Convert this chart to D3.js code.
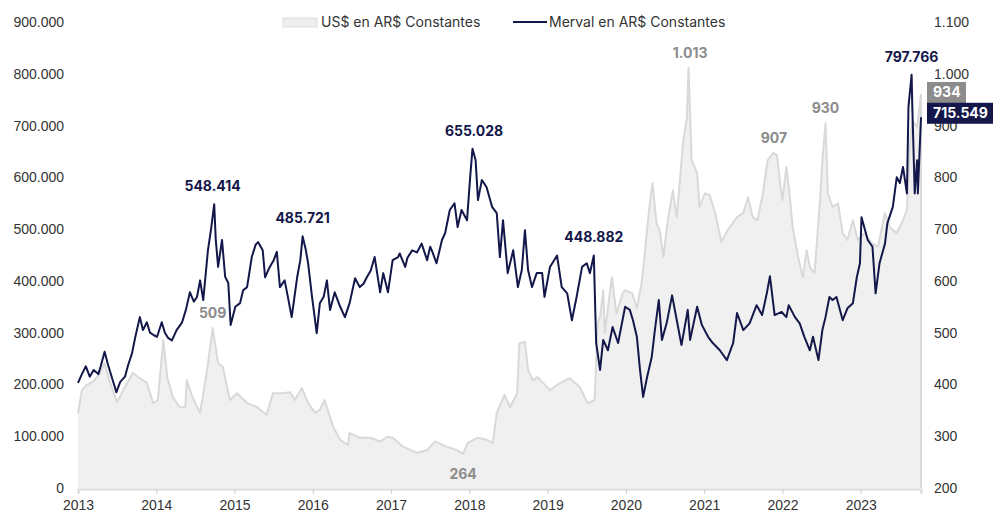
<!DOCTYPE html>
<html>
<head>
<meta charset="utf-8">
<script src="https://cdn.jsdelivr.net/npm/d3@7"></script>
<style>
  body { margin: 0; background: #fff; }
  svg { font-family: Inter, "Noto Sans", sans-serif; display: block; }
</style>
</head>
<body>
<script>
// Merval en AR$ constantes (miles), [año decimal, valor]
var merval = [
  [2013.00,203],[2013.05,220],[2013.10,235],[2013.15,215],[2013.20,228],[2013.26,220],[2013.29,235],[2013.34,263],
  [2013.38,240],[2013.43,215],[2013.49,185],[2013.54,205],[2013.60,215],[2013.64,237],[2013.69,260],[2013.73,290],
  [2013.79,330],[2013.83,305],[2013.88,320],[2013.92,300],[2013.97,295],[2014.01,292],[2014.07,320],[2014.11,300],
  [2014.15,290],[2014.20,285],[2014.26,305],[2014.33,320],[2014.38,345],[2014.43,378],[2014.48,360],[2014.52,369],
  [2014.56,401],[2014.60,363],[2014.66,459],[2014.70,500],[2014.74,548],[2014.76,480],[2014.79,427],[2014.84,479],
  [2014.88,408],[2014.92,396],[2014.95,315],[2015.01,350],[2015.07,357],[2015.11,382],[2015.16,388],[2015.22,446],
  [2015.27,470],[2015.30,475],[2015.36,459],[2015.39,407],[2015.45,427],[2015.50,440],[2015.54,456],[2015.58,388],
  [2015.64,401],[2015.68,370],[2015.73,330],[2015.80,407],[2015.84,440],[2015.87,486],[2015.91,460],[2015.94,434],
  [2015.99,369],[2016.05,299],[2016.09,357],[2016.14,370],[2016.18,401],[2016.22,344],[2016.28,378],[2016.35,350],
  [2016.41,330],[2016.47,357],[2016.54,405],[2016.60,388],[2016.65,395],[2016.69,407],[2016.74,420],[2016.79,446],
  [2016.86,378],[2016.90,415],[2016.96,378],[2017.02,440],[2017.09,446],[2017.11,453],[2017.18,427],[2017.21,445],
  [2017.27,459],[2017.33,455],[2017.39,472],[2017.46,440],[2017.50,466],[2017.53,455],[2017.58,434],[2017.65,479],
  [2017.69,492],[2017.75,537],[2017.81,550],[2017.85,504],[2017.90,537],[2017.97,517],[2018.01,600],[2018.04,655],
  [2018.08,633],[2018.11,556],[2018.16,595],[2018.22,581],[2018.29,543],[2018.35,531],[2018.39,446],[2018.43,517],
  [2018.49,415],[2018.56,459],[2018.62,388],[2018.67,421],[2018.71,498],[2018.75,421],[2018.80,388],[2018.86,415],
  [2018.93,415],[2018.96,369],[2019.03,427],[2019.12,449],[2019.18,388],[2019.25,376],[2019.31,324],[2019.37,369],
  [2019.44,427],[2019.50,434],[2019.54,415],[2019.59,449],[2019.62,280],[2019.67,228],[2019.71,286],[2019.77,266],
  [2019.83,311],[2019.90,280],[2019.99,350],[2020.05,344],[2020.09,324],[2020.14,292],[2020.18,228],[2020.22,176],
  [2020.27,214],[2020.33,253],[2020.37,305],[2020.42,363],[2020.46,286],[2020.52,318],[2020.59,372],[2020.65,324],
  [2020.71,276],[2020.79,344],[2020.82,286],[2020.91,350],[2020.97,315],[2021.05,292],[2021.11,280],[2021.20,266],
  [2021.29,247],[2021.37,280],[2021.42,338],[2021.50,305],[2021.58,318],[2021.67,353],[2021.74,334],[2021.80,376],
  [2021.84,409],[2021.90,334],[2021.99,340],[2022.05,330],[2022.08,353],[2022.16,330],[2022.22,318],[2022.28,292],
  [2022.35,266],[2022.39,292],[2022.46,247],[2022.51,305],[2022.55,330],[2022.60,369],[2022.64,363],[2022.69,369],
  [2022.77,324],[2022.83,347],[2022.90,357],[2022.95,407],[2022.99,434],[2023.01,523],[2023.09,479],[2023.15,466],
  [2023.19,376],[2023.24,434],[2023.31,472],[2023.34,511],[2023.41,543],[2023.46,600],[2023.50,589],[2023.54,620],
  [2023.59,569],[2023.61,736],[2023.65,798],[2023.66,730],[2023.69,569],[2023.72,633],[2023.73,569],[2023.77,716]
];

// US$ en AR$ constantes, [año decimal, valor]
var usd = [
  [2013.00,345],[2013.05,389],[2013.11,399],[2013.19,405],[2013.28,422],[2013.34,441],[2013.41,403],[2013.50,366],
  [2013.60,395],[2013.70,422],[2013.79,412],[2013.88,403],[2013.96,364],[2014.02,370],[2014.09,486],[2014.14,414],
  [2014.21,376],[2014.30,356],[2014.37,356],[2014.39,408],[2014.46,376],[2014.56,345],[2014.65,428],[2014.72,509],
  [2014.79,441],[2014.85,434],[2014.94,370],[2015.03,383],[2015.16,364],[2015.29,356],[2015.41,341],[2015.49,383],
  [2015.61,383],[2015.71,385],[2015.77,370],[2015.86,393],[2015.94,364],[2016.03,345],[2016.09,351],[2016.15,370],
  [2016.26,318],[2016.35,293],[2016.45,283],[2016.47,306],[2016.60,297],[2016.73,297],[2016.86,290],[2016.95,299],
  [2017.02,297],[2017.15,280],[2017.33,268],[2017.46,273],[2017.56,290],[2017.71,280],[2017.84,273],[2017.92,266],
  [2017.98,287],[2018.10,297],[2018.22,293],[2018.30,287],[2018.35,345],[2018.45,380],[2018.52,356],[2018.61,383],
  [2018.64,480],[2018.71,482],[2018.75,428],[2018.81,408],[2018.87,414],[2018.94,403],[2019.03,389],[2019.16,403],
  [2019.28,412],[2019.41,395],[2019.51,364],[2019.60,370],[2019.64,519],[2019.67,530],[2019.71,582],[2019.73,500],
  [2019.82,607],[2019.88,537],[2019.96,576],[2019.99,582],[2020.08,576],[2020.14,547],[2020.20,596],[2020.22,621],
  [2020.27,698],[2020.31,756],[2020.34,789],[2020.39,712],[2020.43,698],[2020.48,646],[2020.53,712],[2020.60,775],
  [2020.65,723],[2020.69,795],[2020.73,866],[2020.78,916],[2020.80,1011],[2020.84,833],[2020.91,808],[2020.94,743],
  [2021.01,769],[2021.07,766],[2021.14,731],[2021.22,675],[2021.30,698],[2021.42,723],[2021.50,731],[2021.56,762],
  [2021.62,723],[2021.68,717],[2021.75,769],[2021.81,833],[2021.88,847],[2021.93,843],[2021.97,789],[2022.00,756],
  [2022.05,820],[2022.09,769],[2022.13,704],[2022.20,646],[2022.26,607],[2022.31,659],[2022.35,627],[2022.41,615],
  [2022.48,756],[2022.51,833],[2022.55,905],[2022.58,769],[2022.64,743],[2022.71,750],[2022.77,692],[2022.83,679],
  [2022.90,717],[2022.96,679],[2023.05,692],[2023.14,673],[2023.22,666],[2023.31,731],[2023.37,704],[2023.46,692],
  [2023.54,717],[2023.59,737],[2023.63,866],[2023.66,910],[2023.72,897],[2023.77,960]
];

var years = d3.range(2013, 2024);
var leftTicks = d3.range(0, 901, 100);      // miles
var rightTicks = d3.range(200, 1101, 100);

// etiquetas de picos del Merval: [año, valor, texto]
var mervalNotes = [
  [2014.72, 548.414, "548.414"],
  [2015.87, 485.721, "485.721"],
  [2018.06, 655.028, "655.028"],
  [2019.59, 448.882, "448.882"],
  [2023.65, 797.766, "797.766"]
];
// etiquetas del US$: [año, texto, debajo]
var usdNotes = [
  [2014.72, "509", false],
  [2017.92, "264", true],
  [2020.82, "1.013", false],
  [2021.89, "907", false],
  [2022.55, "930", false]
];
var lastUsd = "934", lastMerval = "715.549";
var seriesNames = ["US$ en AR$ Constantes", "Merval en AR$ Constantes"];

drawChart();

function drawChart(){
    var navy = "#13174a", grayText = "#8c8c8c";

    var width = 993, height = 511;
    var mLeft = 78, mRight = 921, mTop = 22, mBottom = 488;

    var es = d3.formatLocale({decimal: ",", thousands: ".", grouping: [3], currency: ["$", ""]});
    var fmt = es.format(",");

    var svg = d3.select("body").append("svg")
        .attr("width", width)
        .attr("height", height);

    var x = d3.scaleLinear()
        .domain(d3.extent(merval, function(d){ return d[0]; }))
        .range([mLeft, mRight]);
    var yL = d3.scaleLinear().domain([0, 900]).range([mBottom, mTop]);
    var yR = d3.scaleLinear().domain([200, 1100]).range([mBottom, mTop]);

    // area US$
    svg.append("path")
        .datum(usd)
        .attr("fill", "#f0f0f0")
        .attr("d", d3.area()
            .x(function(d){ return x(d[0]); })
            .y0(yR(200))
            .y1(function(d){ return yR(d[1]); }));

    svg.append("path")
        .datum(usd)
        .attr("fill", "none")
        .attr("stroke", "#d9d9d9")
        .attr("stroke-width", 2)
        .attr("stroke-linejoin", "round")
        .attr("d", d3.line()
            .x(function(d){ return x(d[0]); })
            .y(function(d){ return yR(d[1]); }));

    var lu = usd[usd.length - 1];
    svg.append("line")
        .attr("x1", x(lu[0])).attr("x2", x(lu[0]))
        .attr("y1", yR(lu[1])).attr("y2", yR(200))
        .attr("stroke", "#d9d9d9").attr("stroke-width", 2);

    // linea Merval
    svg.append("path")
        .datum(merval)
        .attr("fill", "none")
        .attr("stroke", navy)
        .attr("stroke-width", 2)
        .attr("stroke-linejoin", "round")
        .attr("d", d3.line()
            .x(function(d){ return x(d[0]); })
            .y(function(d){ return yL(d[1]); }));

    // ejes
    var gL = svg.append("g")
        .attr("transform", "translate(" + mLeft + ",0)")
        .call(d3.axisLeft(yL).tickValues(leftTicks).tickSize(0).tickPadding(14)
            .tickFormat(function(d){ return fmt(d * 1000); }));
    var gR = svg.append("g")
        .attr("transform", "translate(" + mRight + ",0)")
        .call(d3.axisRight(yR).tickValues(rightTicks).tickSize(0).tickPadding(13)
            .tickFormat(fmt));
    [gL, gR].forEach(function(g){
        g.select(".domain").remove();
        g.selectAll("text").attr("font-size", 14).attr("fill", "#333");
    });

    var gX = svg.append("g")
        .attr("transform", "translate(0," + (mBottom + 1) + ")")
        .call(d3.axisBottom(x).tickValues(years).tickFormat(d3.format("d")).tickSize(5).tickPadding(6));
    gX.select(".domain").attr("stroke", "#dcdcdc").attr("stroke-width", 2);
    gX.selectAll(".tick line").attr("stroke", "#cfcfcf");
    gX.selectAll("text").attr("font-size", 14).attr("fill", "#333");

    // etiquetas
    svg.selectAll(".mnote")
        .data(mervalNotes)
        .enter().append("text")
        .attr("class", "mnote")
        .attr("x", function(d){ return x(d[0]); })
        .attr("y", function(d){ return yL(d[1]) - 18; })
        .attr("dy", "0.35em")
        .attr("text-anchor", "middle")
        .attr("font-size", 14).attr("font-weight", 700)
        .attr("fill", navy)
        .text(function(d){ return d[2]; });

    function localPoint(t, low){
        var near = usd.filter(function(d){ return Math.abs(d[0] - t) <= 0.06; });
        return low ? d3.least(near, function(d){ return d[1]; }) : d3.greatest(near, function(d){ return d[1]; });
    }

    svg.selectAll(".unote")
        .data(usdNotes)
        .enter().append("text")
        .attr("class", "unote")
        .attr("x", function(d){ return x(d[0]); })
        .attr("y", function(d){
            var p = localPoint(d[0], d[2]);
            return yR(p[1]) + (d[2] ? 20 : -15);
        })
        .attr("dy", "0.35em")
        .attr("text-anchor", "middle")
        .attr("font-size", 14).attr("font-weight", 700)
        .attr("fill", grayText)
        .text(function(d){ return d[1]; });

    // etiquetas de ultimo valor
    var lm = merval[merval.length - 1];
    var tags = [
        {y: yR(lu[1]) - 2, text: lastUsd, fill: grayText, w: 39},
        {y: yL(lm[1]) - 4, text: lastMerval, fill: navy, w: 70}
    ];
    var tg = svg.selectAll(".tag").data(tags).enter().append("g").attr("class", "tag");
    tg.append("rect")
        .attr("x", mRight + 6)
        .attr("y", function(d){ return d.y - 10.5; })
        .attr("width", function(d){ return d.w; })
        .attr("height", 21)
        .attr("fill", function(d){ return d.fill; });
    tg.append("text")
        .attr("x", mRight + 12)
        .attr("y", function(d){ return d.y; })
        .attr("dy", "0.35em")
        .attr("font-size", 14).attr("font-weight", 700)
        .attr("fill", "#fff")
        .text(function(d){ return d.text; });

    // leyenda
    var lg = svg.append("g").attr("transform", "translate(283,22)");
    lg.append("rect")
        .attr("x", 0).attr("y", -4).attr("width", 34).attr("height", 9)
        .attr("fill", "#eeeeee").attr("stroke", "#dddddd");
    lg.append("text")
        .attr("x", 38).attr("dy", "0.35em")
        .attr("font-size", 14).attr("fill", "#333")
        .text(seriesNames[0]);
    lg.append("line")
        .attr("x1", 230).attr("x2", 264)
        .attr("stroke", navy).attr("stroke-width", 2);
    lg.append("text")
        .attr("x", 266).attr("dy", "0.35em")
        .attr("font-size", 14).attr("fill", "#333")
        .text(seriesNames[1]);
}
</script>
</body>
</html>
